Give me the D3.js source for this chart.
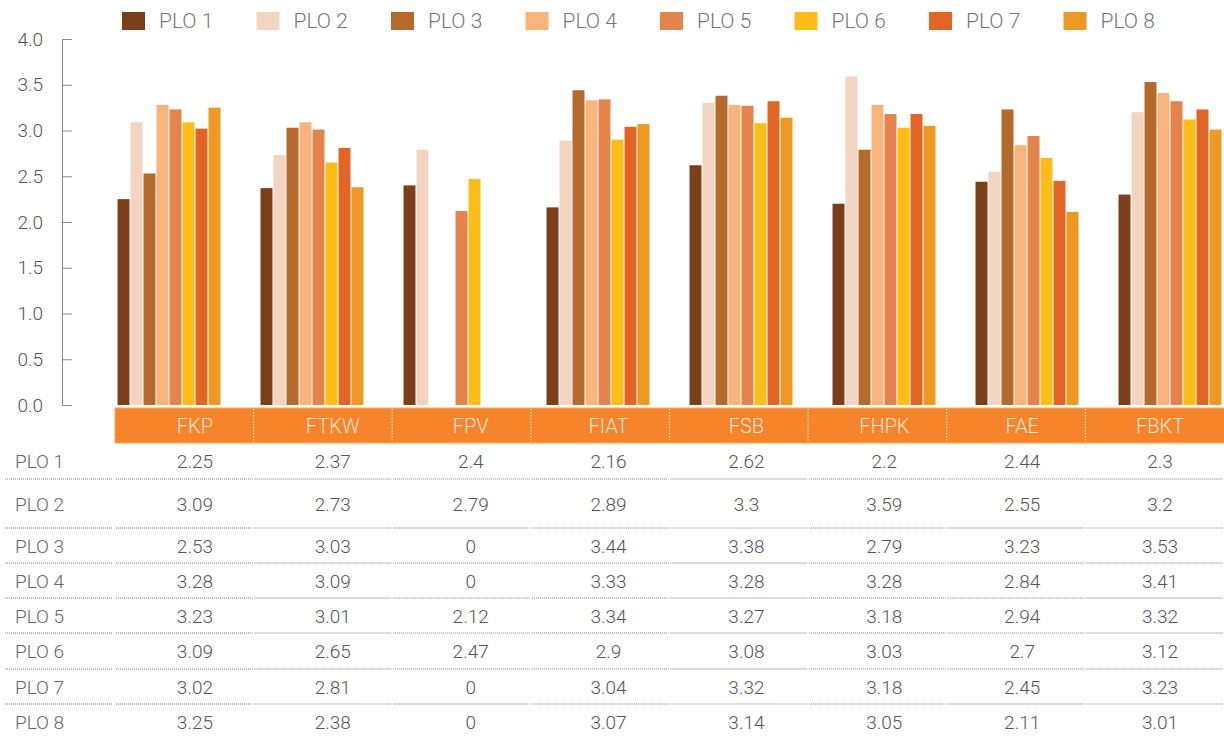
<!DOCTYPE html>
<html>
<head>
<meta charset="utf-8">
<script src="https://cdn.jsdelivr.net/npm/d3@7"></script>
<style>
  body { margin: 0; background: #fff; }
  text { font-family: Roboto, "Noto Sans", sans-serif; font-weight: 300; }
</style>
</head>
<body>
<div id="chart"></div>
<script>
// data
var faculties = ["FKP", "FTKW", "FPV", "FIAT", "FSB", "FHPK", "FAE", "FBKT"];
var plos = ["PLO 1", "PLO 2", "PLO 3", "PLO 4", "PLO 5", "PLO 6", "PLO 7", "PLO 8"];
var plo1 = [2.25, 2.37, 2.4, 2.16, 2.62, 2.2, 2.44, 2.3];
var plo2 = [3.09, 2.73, 2.79, 2.89, 3.3, 3.59, 2.55, 3.2];
var plo3 = [2.53, 3.03, 0, 3.44, 3.38, 2.79, 3.23, 3.53];
var plo4 = [3.28, 3.09, 0, 3.33, 3.28, 3.28, 2.84, 3.41];
var plo5 = [3.23, 3.01, 2.12, 3.34, 3.27, 3.18, 2.94, 3.32];
var plo6 = [3.09, 2.65, 2.47, 2.9, 3.08, 3.03, 2.7, 3.12];
var plo7 = [3.02, 2.81, 0, 3.04, 3.32, 3.18, 2.45, 3.23];
var plo8 = [3.25, 2.38, 0, 3.07, 3.14, 3.05, 2.11, 3.01];
var yTicks = [0, 0.5, 1, 1.5, 2, 2.5, 3, 3.5, 4];

var series = [plo1, plo2, plo3, plo4, plo5, plo6, plo7, plo8];
var colors = ["#7b3f19", "#f2d4c0", "#b5692a", "#f9b47b", "#e4834c", "#fdbd17", "#e36526", "#ee9a22"];

var width = 1224, height = 736;

var svg = d3.select("#chart")
  .append("svg")
  .attr("width", width)
  .attr("height", height);

// scales
var x0 = d3.scaleBand()
  .domain(faculties)
  .range([97.5, 1241.5])
  .paddingInner(0.28)
  .paddingOuter(0.14);

var x1 = d3.scaleBand()
  .domain(plos)
  .range([0, x0.bandwidth()])
  .paddingInner(0.08);

var y = d3.scaleLinear()
  .domain([0, 4])
  .range([405, 39]);

// y axis
var yAxis = svg.append("g")
  .attr("transform", "translate(62,0)")
  .call(d3.axisLeft(y).tickValues(yTicks).tickFormat(d3.format(".1f"))
    .tickSizeInner(-10).tickSizeOuter(-10));
yAxis.select(".domain").attr("stroke", "#8a8a8a");
yAxis.selectAll(".tick line").attr("stroke", "#8a8a8a");
yAxis.selectAll(".tick text")
  .attr("x", -19)
  .style("font-size", "19px")
  .style("font-family", "Roboto, sans-serif")
  .style("font-weight", 300)
  .attr("fill", "#555");

// bars
var groups = svg.append("g")
  .selectAll("g")
  .data(faculties)
  .enter()
  .append("g")
    .attr("transform", function(d) { return "translate(" + x0(d) + ",0)"; });

groups.selectAll("rect")
  .data(function(d, i) {
    return plos.map(function(p, j) { return { key: p, value: series[j][i], c: colors[j] }; });
  })
  .enter()
  .append("rect")
    .attr("x", function(d) { return x1(d.key); })
    .attr("y", function(d) { return y(d.value); })
    .attr("width", x1.bandwidth())
    .attr("height", function(d) { return y(0) - y(d.value); })
    .attr("fill", function(d) { return d.c; });

// legend
var legend = svg.append("g")
  .selectAll("g")
  .data(plos)
  .enter()
  .append("g")
    .attr("transform", function(d, i) { return "translate(" + (122 + i * 134.5) + ",12)"; });

legend.append("rect")
  .attr("width", 23)
  .attr("height", 18)
  .attr("fill", function(d, i) { return colors[i]; });

legend.append("text")
  .attr("x", 37)
  .attr("y", 16)
  .attr("fill", "#777")
  .style("font-size", "21px")
  .text(function(d) { return d; });

// table header band
var colScale = d3.scaleBand().domain(faculties).range([115, 1224]);
var textScale = d3.scaleBand().domain(faculties).range([126, 1229]);

svg.append("rect")
  .attr("x", 115)
  .attr("y", 408)
  .attr("width", 1115)
  .attr("height", 35)
  .attr("fill", "#f5842a")
  .attr("stroke", "#f9a865")
  .attr("stroke-width", 1);

svg.append("g")
  .selectAll("line")
  .data(faculties.slice(1))
  .enter()
  .append("line")
    .attr("x1", function(d) { return colScale(d); })
    .attr("x2", function(d) { return colScale(d); })
    .attr("y1", 409)
    .attr("y2", 442)
    .attr("stroke", "#fde3cf")
    .attr("stroke-width", 1.3)
    .attr("stroke-dasharray", "1.5,1.5");

svg.append("g")
  .selectAll("text")
  .data(faculties)
  .enter()
  .append("text")
    .attr("x", function(d) { return textScale(d) + textScale.bandwidth() / 2; })
    .attr("y", 433)
    .attr("text-anchor", "middle")
    .attr("fill", "#fde6d4")
    .style("font-size", "20px")
    .text(function(d) { return d; });

// table rows
var rowHeights = [36, 49, 35, 35, 35, 36, 35, 35];
var rowTop = [];
var acc = 443;
rowHeights.forEach(function(h) { rowTop.push(acc); acc += h; });

var rows = svg.append("g")
  .selectAll("g")
  .data(plos)
  .enter()
  .append("g")
    .attr("transform", function(d, i) { return "translate(0," + rowTop[i] + ")"; });

rows.append("text")
  .attr("x", 15)
  .attr("y", function(d, i) { return rowHeights[i] / 2 + 7; })
  .attr("fill", "#666")
  .style("font-size", "19px")
  .text(function(d) { return d; });

rows.selectAll(".val")
  .data(function(d, j) { return faculties.map(function(f, i) { return { f: f, v: series[j][i], h: rowHeights[j] }; }); })
  .enter()
  .append("text")
    .attr("class", "val")
    .attr("x", function(d) { return textScale(d.f) + textScale.bandwidth() / 2; })
    .attr("y", function(d) { return d.h / 2 + 7; })
    .attr("text-anchor", "middle")
    .attr("fill", "#555")
    .style("font-size", "19px")
    .text(function(d) { return d.v; });

// dotted row separators, broken at each column
var segs = [[5, 113]].concat(faculties.map(function(f) {
  return [colScale(f) + 1, colScale(f) + colScale.bandwidth() - 1];
}));

rows.filter(function(d, i) { return i < plos.length - 1; })
  .selectAll("line")
  .data(function(d, i) { return segs.map(function(s) { return { s: s, h: rowHeights[i] }; }); })
  .enter()
  .append("line")
    .attr("x1", function(d) { return d.s[0]; })
    .attr("x2", function(d) { return d.s[1]; })
    .attr("y1", function(d) { return d.h; })
    .attr("y2", function(d) { return d.h; })
    .attr("stroke", "#777")
    .attr("stroke-width", 1)
    .attr("stroke-dasharray", "1,1");
</script>
</body>
</html>
